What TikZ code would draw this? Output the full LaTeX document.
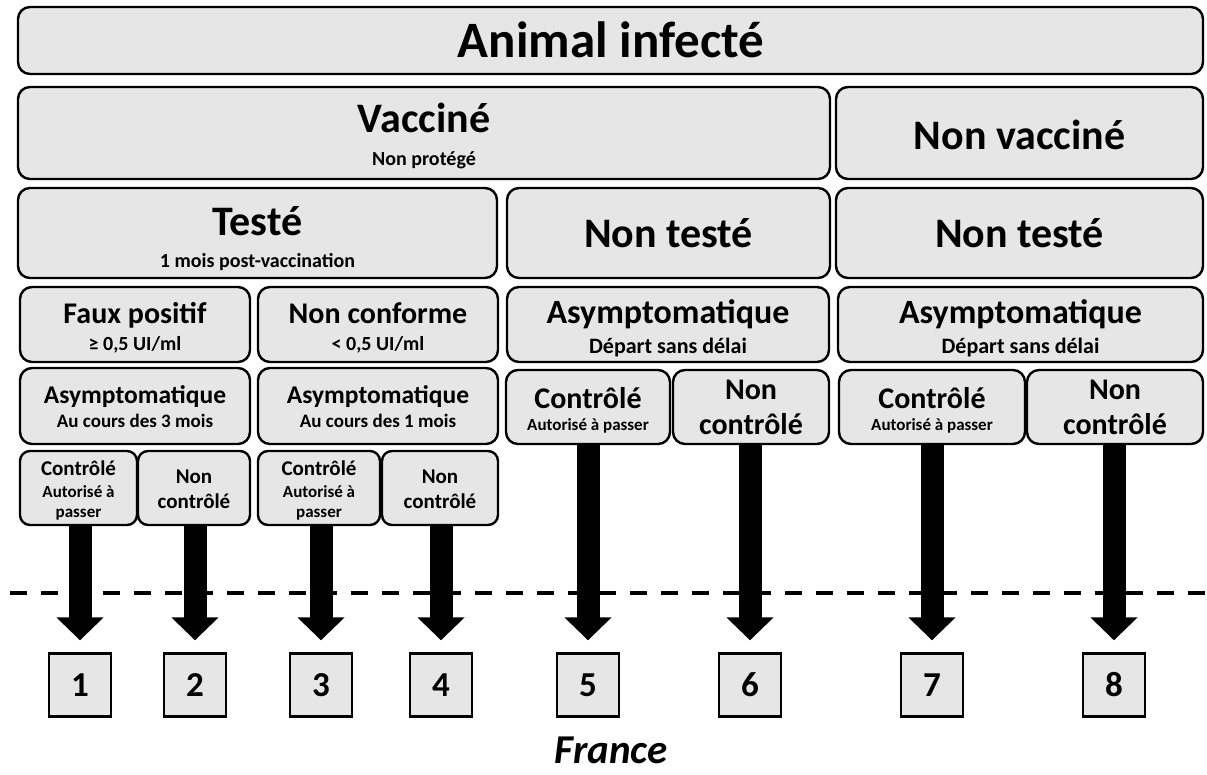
\documentclass[tikz,border=0pt]{standalone}
\usepackage{fontspec}
\setmainfont{Carlito}
\usetikzlibrary{arrows.meta,fit}
\definecolor{boxgray}{HTML}{E6E6E6}
\begin{document}
\begin{tikzpicture}[x=1pt,y=-1pt,
  box/.style={draw, line width=2.4pt, fill=boxgray, rounded corners=12pt, inner sep=0pt},
  sbox/.style={box, rounded corners=10pt},
  numbox/.style={draw, line width=2.4pt, fill=boxgray, minimum width=62pt, minimum height=63pt, inner sep=0pt, font=\fontsize{35}{40}\selectfont\bfseries},
  lbl/.style={anchor=base, inner sep=0pt},
  fA/.style={font=\fontsize{51}{60}\selectfont\bfseries},
  fB/.style={font=\fontsize{42}{50}\selectfont\bfseries},
  fC/.style={font=\fontsize{20}{24}\selectfont\bfseries},
  fD/.style={font=\fontsize{30}{36}\selectfont\bfseries},
  fE/.style={font=\fontsize{25.5}{30}\selectfont\bfseries},
  fF/.style={font=\fontsize{19}{23}\selectfont\bfseries},
  fG/.style={font=\fontsize{34}{40}\selectfont\bfseries},
  fH/.style={font=\fontsize{22}{26}\selectfont\bfseries},
  fI/.style={font=\fontsize{17}{20}\selectfont\bfseries},
  fJ/.style={font=\fontsize{21}{25}\selectfont\bfseries},
  bigarrow/.style={line width=23pt, -{Triangle[width=46pt,length=23pt]}, shorten >=12pt},
  dline/.style={line width=3.5pt, dash pattern=on 17pt off 14pt}
]
\useasboundingbox (0,0) rectangle (1207,774);

% --- boxes ---
\node[box, fit={(18,7) (1203,74)}] (animal) {};
\node[box, fit={(18,87) (830,179)}] (vacc) {};
\node[box, fit={(836,87) (1203,179)}] (nonvacc) {};
\node[box, fit={(18,188) (497,278)}] (teste) {};
\node[box, fit={(507,188) (830,278)}] (ntm) {};
\node[box, fit={(836,188) (1203,278)}] (ntr) {};
\node[box, fit={(20,287) (250,362)}] (faux) {};
\node[box, fit={(258,287) (498,362)}] (nconf) {};
\node[box, fit={(507,287) (829,362)}] (asm) {};
\node[box, fit={(838,287) (1203,362)}] (asr) {};
\node[box, fit={(20,368) (250,444)}] (as3) {};
\node[box, fit={(258,368) (498,444)}] (as1) {};
\node[box, fit={(506,370) (670,444)}] (cm) {};
\node[box, fit={(673,370) (829,444)}] (ncm) {};
\node[box, fit={(839,370) (1025,444)}] (cr) {};
\node[box, fit={(1027,370) (1203,444)}] (ncr) {};
\node[sbox, fit={(20,451) (137,525)}] (c1) {};
\node[sbox, fit={(138,451) (250,525)}] (nc2) {};
\node[sbox, fit={(258,451) (380,525)}] (c3) {};
\node[sbox, fit={(382,451) (498,525)}] (nc4) {};

% --- labels ---
\node[lbl, fA] (tAnimal) at (611,57) {Animal infecté};
\node[lbl, fB] (tVacc) at (424,132) {Vacciné};
\node[lbl, fC] (sVacc) at (424,165) {Non protégé};
\node[lbl, fB] (tNonVacc) at (1019.5,149) {Non vacciné};
\node[lbl, fB] (tTeste) at (257.5,235) {Testé};
\node[lbl, fC] (sTeste) at (257.5,267) {1 mois post-vaccination};
\node[lbl, fB] (tNtm) at (668.5,247) {Non testé};
\node[lbl, fB] (tNtr) at (1019.5,247) {Non testé};
\node[lbl, fD] (tFaux) at (135,323) {Faux positif};
\node[lbl, fC] (sFaux) at (135,350) {≥ 0,5 UI/ml};
\node[lbl, fD] (tNconf) at (378,323) {Non conforme};
\node[lbl, fC] (sNconf) at (378,350) {< 0,5 UI/ml};
\node[lbl, fG] (tAsm) at (668,323) {Asymptomatique};
\node[lbl, fH] (sAsm) at (668,353) {Départ sans délai};
\node[lbl, fG] (tAsr) at (1020.5,323) {Asymptomatique};
\node[lbl, fH] (sAsr) at (1020.5,353) {Départ sans délai};
\node[lbl, fE] (tAs3) at (135,403) {Asymptomatique};
\node[lbl, fF] (sAs3) at (135,427) {Au cours des 3 mois};
\node[lbl, fE] (tAs1) at (378,403) {Asymptomatique};
\node[lbl, fF] (sAs1) at (378,427) {Au cours des 1 mois};
\node[lbl, fD] (tCm) at (588,408) {Contrôlé};
\node[lbl, fI] (sCm) at (588,430) {Autorisé à passer};
\node[lbl, fD] (tNcm1) at (751,399) {Non};
\node[lbl, fD] (tNcm2) at (751,434) {contrôlé};
\node[lbl, fD] (tCr) at (932,408) {Contrôlé};
\node[lbl, fI] (sCr) at (932,430) {Autorisé à passer};
\node[lbl, fD] (tNcr1) at (1115,399) {Non};
\node[lbl, fD] (tNcr2) at (1115,434) {contrôlé};
\node[lbl, fJ] (tC1) at (78.5,475) {Contrôlé};
\node[lbl, fI] (sC1a) at (78.5,497) {Autorisé à};
\node[lbl, fI] (sC1b) at (78.5,517) {passer};
\node[lbl, fJ] (tNc2a) at (194,483) {Non};
\node[lbl, fJ] (tNc2b) at (194,508) {contrôlé};
\node[lbl, fJ] (tC3) at (319,475) {Contrôlé};
\node[lbl, fI] (sC3a) at (319,497) {Autorisé à};
\node[lbl, fI] (sC3b) at (319,517) {passer};
\node[lbl, fJ] (tNc4a) at (440,483) {Non};
\node[lbl, fJ] (tNc4b) at (440,508) {contrôlé};

% --- number boxes ---
\node[numbox] (n1) at (80,685) {1};
\node[numbox] (n2) at (195,685) {2};
\node[numbox] (n3) at (321,685) {3};
\node[numbox] (n4) at (441,685) {4};
\node[numbox] (n5) at (588,685) {5};
\node[numbox] (n6) at (750,685) {6};
\node[numbox] (n7) at (932,685) {7};
\node[numbox] (n8) at (1114,685) {8};

\node[lbl, text depth=0pt, font=\fontsize{41}{48}\selectfont\bfseries\itshape] (france) at (611,763) {France};

% --- dashed border ---
\coordinate (dl) at (10,593);
\coordinate (dr) at (1207,593);
\draw[dline] (dl) -- (dr);

% --- arrows ---
\draw[bigarrow] (c1.south -| n1) -- (n1.north);
\draw[bigarrow] (nc2.south -| n2) -- (n2.north);
\draw[bigarrow] (c3.south -| n3) -- (n3.north);
\draw[bigarrow] (nc4.south -| n4) -- (n4.north);
\draw[bigarrow] (cm.south -| n5) -- (n5.north);
\draw[bigarrow] (ncm.south -| n6) -- (n6.north);
\draw[bigarrow] (cr.south -| n7) -- (n7.north);
\draw[bigarrow] (ncr.south -| n8) -- (n8.north);
\end{tikzpicture}
\end{document}
